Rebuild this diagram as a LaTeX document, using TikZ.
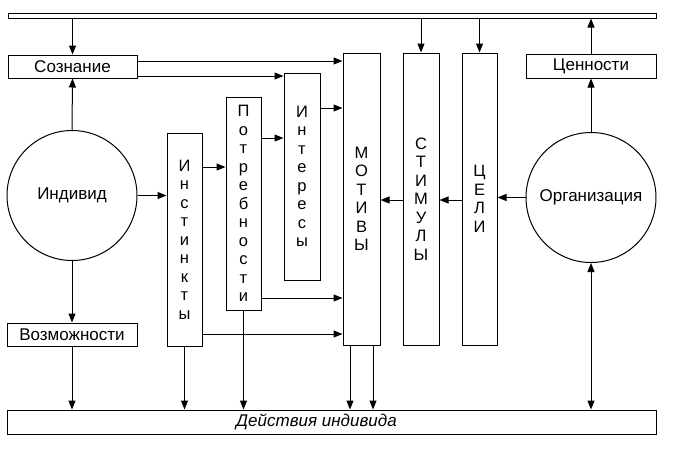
\documentclass[tikz,border=0pt]{standalone}
\usepackage{fontspec}
\setmainfont{Liberation Sans}
\usetikzlibrary{arrows.meta}

\tikzset{
  box/.style={draw, line width=1pt, inner sep=0pt, font=\fontsize{17}{19}\selectfont},
  column/.style={draw, line width=1pt, inner sep=0pt, align=center, font=\fontsize{16.5}{18.5}\selectfont},
  blob/.style={draw, circle, line width=1pt, minimum size=130pt, inner sep=0pt, font=\fontsize{17}{19}\selectfont},
  link/.style={line width=1pt, -{Triangle[length=9pt,width=7pt]}},
  twolink/.style={line width=1pt, {Triangle[length=9pt,width=7pt]}-{Triangle[length=9pt,width=7pt]}}
}

\begin{document}
\begin{tikzpicture}[x=1pt,y=-1pt]
    \useasboundingbox (0,0) rectangle (678,459);

    % Draw the thin bar at the top and the action bar at the bottom
    \node[box, minimum width=648pt, minimum height=5pt] (bar) at (332,15.5) {};
    \node[box, minimum width=649pt, minimum height=24pt,
          label={[xshift=-15pt, font=\fontsize{17}{19}\selectfont\itshape]center:Действия индивида}] (dej) at (331.5,422) {};

    % Draw the small boxes
    \node[box, minimum width=129pt, minimum height=23pt] (soz) at (72.5,66.5) {Сознание};
    \node[box, minimum width=130pt, minimum height=24pt] (cen) at (591,66) {Ценности};
    \node[box, minimum width=130pt, minimum height=23pt] (vozm) at (72,334.5) {Возможности};

    % Draw the two circles
    \node[blob] (ind) at (72,195.5) {Индивид};
    \node[blob] (org) at (591,197.5) {Организация};

    % Draw the columns with the stacked letters
    \node[column, minimum width=35pt, minimum height=213pt] (inst) at (184.5,239.5) {И\\н\\с\\т\\и\\н\\к\\т\\ы};
    \node[column, minimum width=35pt, minimum height=213pt] (potr) at (243.5,203.5) {П\\о\\т\\р\\е\\б\\н\\о\\с\\т\\и};
    \node[column, minimum width=36pt, minimum height=207pt] (inter) at (302,176.5) {И\\н\\т\\е\\р\\е\\с\\ы};
    \node[column, minimum width=37pt, minimum height=292pt] (mot) at (361.5,199) {М\\О\\Т\\И\\В\\Ы};
    \node[column, minimum width=36pt, minimum height=292pt] (stim) at (421,199) {С\\Т\\И\\М\\У\\Л\\Ы};
    \node[column, minimum width=35pt, minimum height=292pt] (celi) at (479.5,199) {Ц\\Е\\Л\\И};

    % Arrows from and to the top bar
    \draw[link] (bar.south -| soz.north) -- (soz.north);
    \draw[link] (bar.south -| stim.north) -- (stim.north);
    \draw[link] (bar.south -| celi.north) -- (celi.north);
    \draw[link] (cen.north) -- (bar.south -| cen.north);

    % Arrows on the left side
    \draw[link] (ind.north) -- (soz.south);
    \draw[link] (ind.south) -- (vozm.north);
    \draw[link] (soz.east |- 0,61) -- (mot.west |- 0,61);
    \draw[link] (soz.east |- 0,76) -- (inter.west |- 0,76);
    \draw[link] (ind.east) -- (inst.west |- ind.east);
    \draw[link] (inst.east |- 0,167) -- (potr.west |- 0,167);
    \draw[link] (potr.east |- 0,138) -- (inter.west |- 0,138);
    \draw[link] (inter.east |- 0,108) -- (mot.west |- 0,108);
    \draw[link] (potr.east |- 0,298) -- (mot.west |- 0,298);
    \draw[link] (inst.east |- 0,334) -- (mot.west |- 0,334);

    % Arrows on the right side
    \draw[link] (org.north) -- (cen.south);
    \draw[link] (org.west) -- (celi.east |- org.west);
    \draw[link] (celi.west |- 0,200) -- (stim.east |- 0,200);
    \draw[link] (stim.west |- 0,200) -- (mot.east |- 0,200);

    % Arrows down to the actions
    \draw[link] (vozm.south) -- (dej.north -| vozm.south);
    \draw[link] (inst.south) -- (dej.north -| inst.south);
    \draw[link] (potr.south) -- (dej.north -| potr.south);
    \draw[link] (mot.south -| 350,0) -- (dej.north -| 350,0);
    \draw[link] (mot.south -| 373,0) -- (dej.north -| 373,0);
    \draw[twolink] (org.south) -- (dej.north -| org.south);
\end{tikzpicture}
\end{document}
